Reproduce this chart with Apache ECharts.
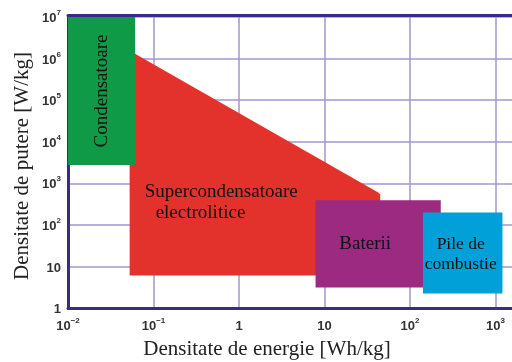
<!DOCTYPE html>
<html>
<head>
<meta charset="utf-8">
<script src="https://cdn.jsdelivr.net/npm/echarts@6/dist/echarts.min.js"></script>
<style>
  html, body { margin: 0; padding: 0; background: #ffffff; overflow: hidden; }
  /* the plot runs one decade past the right edge of the window */
  #chart { width: 584px; height: 362px; }
</style>
</head>
<body>
<div id="chart"></div>
<script>
// Ragone plot: power density vs energy density of storage technologies
const xTickExponents = [-2, -1, 0, 1, 2, 3];
const yTickExponents = [0, 1, 2, 3, 4, 5, 6, 7];

// Condensatoare (rectangle)
const capX = [0.01, 0.061, 0.061, 0.01];
const capY = [2750, 2750, 1e7, 1e7];

// Supercondensatoare electrolitice (polygon with a sloped upper edge)
const superX = [0.0526, 0.0526, 0.06, 42.5, 44.8, 44.8];
const superY = [6.05, 1.5e6, 1.32e6, 600, 537, 6.05];

// Baterii (rectangle)
const battX = [7.86, 229, 229, 7.86];
const battY = [3.1, 3.1, 392, 392];

// Pile de combustie (rectangle)
const fuelX = [141.6, 1206, 1206, 141.6];
const fuelY = [2.23, 2.23, 198, 198];

const serif = '"Liberation Serif", "Times New Roman", serif';
const sans = '"Liberation Sans", Arial, sans-serif';

function exponentOf(v, list) {
  const l = Math.log10(v), e = Math.round(l);
  return (Math.abs(l - e) < 1e-6 && list.includes(e)) ? e : null;
}
function tickLabel(e) {
  if (e === null) return '';
  if (e === 0) return '{b|1}';
  if (e === 1) return '{b|10}';
  return '{b|10}{s|' + (e < 0 ? '\u2212' : '') + Math.abs(e) + '}';
}
const tickRich = {
  b: { fontSize: 13, fontWeight: 'bold', fontFamily: sans, color: '#333', lineHeight: 16, verticalAlign: 'bottom' },
  s: { fontSize: 8, fontWeight: 'bold', fontFamily: sans, color: '#333', lineHeight: 9, verticalAlign: 'top' }
};

function textEl(x, y, text, size, opts) {
  opts = opts || {};
  return {
    type: 'text', x: x, y: y, rotation: opts.rotation || 0,
    style: {
      text: text, fill: '#111', font: size + 'px ' + serif,
      textAlign: opts.align || 'center', align: opts.align || 'center',
      textVerticalAlign: 'middle', verticalAlign: 'middle',
      lineHeight: opts.lineHeight || size
    }
  };
}

// Each shape is a custom series: its vertices go through the axes' scales
function shapeSeries(name, xs, ys, color, labels) {
  return {
    type: 'custom',
    name: name,
    coordinateSystem: 'cartesian2d',
    data: xs.map((x, i) => [x, ys[i]]),
    clip: true,
    renderItem: function (params, api) {
      if (params.dataIndex !== 0) return null;
      const pts = xs.map((x, i) => api.coord([x, ys[i]]));
      const children = [{ type: 'polygon', shape: { points: pts }, style: { fill: color } }];
      return { type: 'group', children: children.concat(labels(pts)) };
    }
  };
}

function bounds(pts) {
  const xs = pts.map(p => p[0]), ys = pts.map(p => p[1]);
  return { l: Math.min(...xs), r: Math.max(...xs), t: Math.min(...ys), b: Math.max(...ys) };
}

const chart = echarts.init(document.getElementById('chart'), null, { renderer: 'canvas' });

const axisColor = '#3b2a8a';
const gridColor = '#a297cf';

chart.setOption({
  animation: false,
  backgroundColor: '#ffffff',
  grid: { left: 68, right: 0, top: 17, bottom: 54 },
  xAxis: [{
    type: 'log', logBase: 10, min: 0.01, max: 1e4,
    axisLine: { show: true, onZero: false, lineStyle: { color: axisColor, width: 3 } },
    axisTick: { show: false },
    minorTick: { show: false },
    splitLine: { show: true, lineStyle: { color: gridColor, width: 1.5 } },
    axisLabel: {
      margin: 9,
      formatter: v => tickLabel(exponentOf(v, xTickExponents)),
      rich: tickRich
    }
  }, {
    type: 'log', logBase: 10, min: 0.01, max: 1e4, position: 'top', offset: 2,
    axisLine: { show: true, lineStyle: { color: axisColor, width: 3 } },
    axisTick: { show: false }, axisLabel: { show: false }, splitLine: { show: false }
  }],
  yAxis: {
    type: 'log', logBase: 10, min: 1, max: 1e7,
    axisLine: { show: true, onZero: false, lineStyle: { color: axisColor, width: 3 } },
    axisTick: { show: false },
    minorTick: { show: false },
    splitLine: { show: true, lineStyle: { color: gridColor, width: 1.5 } },
    axisLabel: {
      margin: 7,
      formatter: v => tickLabel(exponentOf(v, yTickExponents)),
      rich: tickRich
    }
  },
  graphic: [
    { type: 'text', x: 267, y: 349,
      style: { text: 'Densitate de energie [Wh/kg]', font: '21px ' + serif, fill: '#222',
               textAlign: 'center', align: 'center', textVerticalAlign: 'middle', verticalAlign: 'middle' } },
    { type: 'text', x: 22, y: 166, rotation: Math.PI / 2,
      style: { text: 'Densitate de putere [W/kg]', font: '21px ' + serif, fill: '#222',
               textAlign: 'center', align: 'center', textVerticalAlign: 'middle', verticalAlign: 'middle' } }
  ],
  series: [
    shapeSeries('Supercondensatoare electrolitice', superX, superY, '#e3322c', pts => {
      const b = bounds(pts);
      return [
        textEl(b.l + 15, b.b - 83, 'Supercondensatoare', 19, { align: 'left' }),
        textEl(b.l + 26, b.b - 62, 'electrolitice', 19, { align: 'left' })
      ];
    }),
    shapeSeries('Condensatoare', capX, capY, '#0f9a48', pts => {
      const b = bounds(pts);
      return [textEl((b.l + b.r) / 2, (b.t + b.b) / 2, 'Condensatoare', 19, { rotation: Math.PI / 2 })];
    }),
    shapeSeries('Baterii', battX, battY, '#9c2a80', pts => {
      const b = bounds(pts);
      return [textEl((b.l + b.r) / 2 - 13, (b.t + b.b) / 2, 'Baterii', 19)];
    }),
    shapeSeries('Pile de combustie', fuelX, fuelY, '#02a0d8', pts => {
      const b = bounds(pts);
      return [textEl((b.l + b.r) / 2 - 2, (b.t + b.b) / 2 + 1, 'Pile de\ncombustie', 17.5, { lineHeight: 20 })];
    })
  ]
});
</script>
</body>
</html>
